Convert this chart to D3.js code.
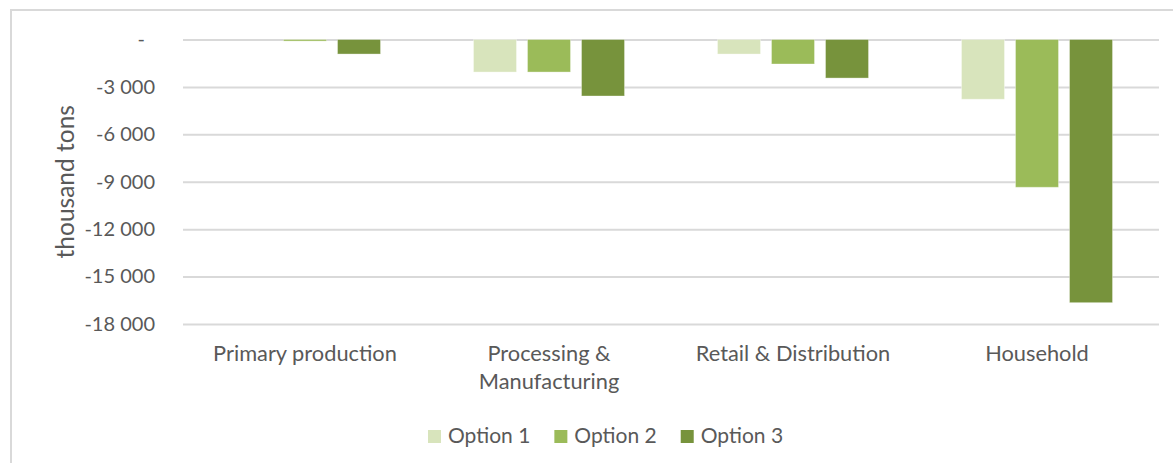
<!DOCTYPE html>
<meta charset="utf-8">
<style>
  body {
    margin: 0;
    background: #fff;
  }
  svg text {
    font-family: Lato, "Open Sans", sans-serif;
    fill: #595959;
  }
</style>
<body>
  <script src="https://d3js.org/d3.v7.min.js"></script>
  <div id="chart"></div>
  <script>
    const categories = ["Primary production", "Processing & Manufacturing", "Retail & Distribution", "Household"];
    const series = ["Option 1", "Option 2", "Option 3"];
    const option1 = [0, -2060, -920, -3780];
    const option2 = [-100, -2060, -1550, -9350];
    const option3 = [-920, -3575, -2440, -16650];
    const yTicks = [0, -3000, -6000, -9000, -12000, -15000, -18000];
    const colors = ["#d8e4bc", "#9bbb59", "#77933c"];

    const width = 1173;
    const height = 463;
    const margin = {top: 39.5, right: 14, bottom: 139, left: 183};

    const values = [option1, option2, option3];
    const data = categories.map((c, i) => ({
      category: c,
      vals: series.map((s, j) => ({series: s, value: values[j][i]}))
    }));

    const svg = d3.select("#chart")
      .append("svg")
      .attr("width", width)
      .attr("height", height);

    // chart border (only top and left edges visible in the frame)
    svg.append("rect")
      .attr("x", 11)
      .attr("y", 10)
      .attr("width", width + 20)
      .attr("height", height + 20)
      .attr("fill", "none")
      .attr("stroke", "#d9d9d9")
      .attr("stroke-width", 2);

    const x0 = d3.scaleBand()
      .domain(categories)
      .range([margin.left, width - margin.right])
      .paddingInner(0.381)
      .paddingOuter(0.1905);

    const x1 = d3.scaleBand()
      .domain(series)
      .range([0, x0.bandwidth()])
      .paddingInner(0.2037);

    const y = d3.scaleLinear()
      .domain([-18000, 0])
      .range([height - margin.bottom, margin.top]);

    const color = d3.scaleOrdinal().domain(series).range(colors);

    const locale = d3.formatLocale({decimal: ",", thousands: " ", grouping: [3], currency: ["", ""], minus: "-"});
    const fmt = locale.format(",");

    // gridlines
    svg.append("g")
      .attr("transform", `translate(${margin.left},0)`)
      .call(d3.axisLeft(y).tickValues(yTicks).tickSize(-(width - margin.right - margin.left)).tickFormat(""))
      .call(g => g.select(".domain").remove())
      .call(g => g.selectAll(".tick line").attr("stroke", "#d9d9d9").attr("stroke-width", 2));

    // y tick labels
    const yAxis = svg.append("g")
      .attr("transform", `translate(${margin.left},0)`)
      .call(d3.axisLeft(y).tickValues(yTicks).tickSize(0).tickPadding(28)
        .tickFormat(d => d === 0 ? "-" : fmt(d)))
      .call(g => g.select(".domain").remove());
    yAxis.selectAll(".tick text")
      .attr("font-size", 20)
      .attr("font-family", null)
      .attr("fill", null)
      .attr("dx", d => d === 0 ? -10 : 0);

    // y axis title
    svg.append("text")
      .attr("transform", `translate(74,${(y(0) + y(-18000)) / 2}) rotate(-90)`)
      .attr("text-anchor", "middle")
      .attr("font-size", 24.5)
      .text("thousand tons");

    // bars
    svg.append("g")
      .selectAll("g")
      .data(data)
      .join("g")
      .attr("transform", d => `translate(${x0(d.category)},0)`)
      .selectAll("rect")
      .data(d => d.vals)
      .join("rect")
      .attr("x", d => x1(d.series))
      .attr("y", d => y(Math.max(0, d.value)))
      .attr("width", x1.bandwidth())
      .attr("height", d => Math.abs(y(d.value) - y(0)))
      .attr("fill", d => color(d.series))
      .attr("stroke", "#fff")
      .attr("stroke-opacity", 0.35)
      .attr("stroke-width", 1);

    // category labels with wrapping
    const maxLabelWidth = x0.step() - 20;
    svg.append("g")
      .selectAll("text")
      .data(categories)
      .join("text")
      .attr("x", d => x0(d) + x0.bandwidth() / 2)
      .attr("y", 361)
      .attr("text-anchor", "middle")
      .attr("font-size", 21.8)
      .each(function (d) {
        const el = d3.select(this);
        const words = d.split(" ");
        let line = [];
        let tspan = el.append("tspan").attr("x", el.attr("x")).attr("dy", 0);
        words.forEach(w => {
          line.push(w);
          tspan.text(line.join(" "));
          if (tspan.node().getComputedTextLength() > maxLabelWidth && line.length > 1) {
            line.pop();
            tspan.text(line.join(" "));
            line = [w];
            tspan = el.append("tspan").attr("x", el.attr("x")).attr("dy", 28).text(w);
          }
        });
      });

    // legend
    const legend = svg.append("g").attr("transform", "translate(428,443)");
    let lx = 0;
    series.forEach(s => {
      legend.append("rect")
        .attr("x", lx)
        .attr("y", -13)
        .attr("width", 13)
        .attr("height", 13)
        .attr("fill", color(s));
      const t = legend.append("text")
        .attr("x", lx + 20)
        .attr("y", 0)
        .attr("font-size", 21)
        .text(s);
      lx += 20 + t.node().getComputedTextLength() + 24;
    });
  </script>
</body>
